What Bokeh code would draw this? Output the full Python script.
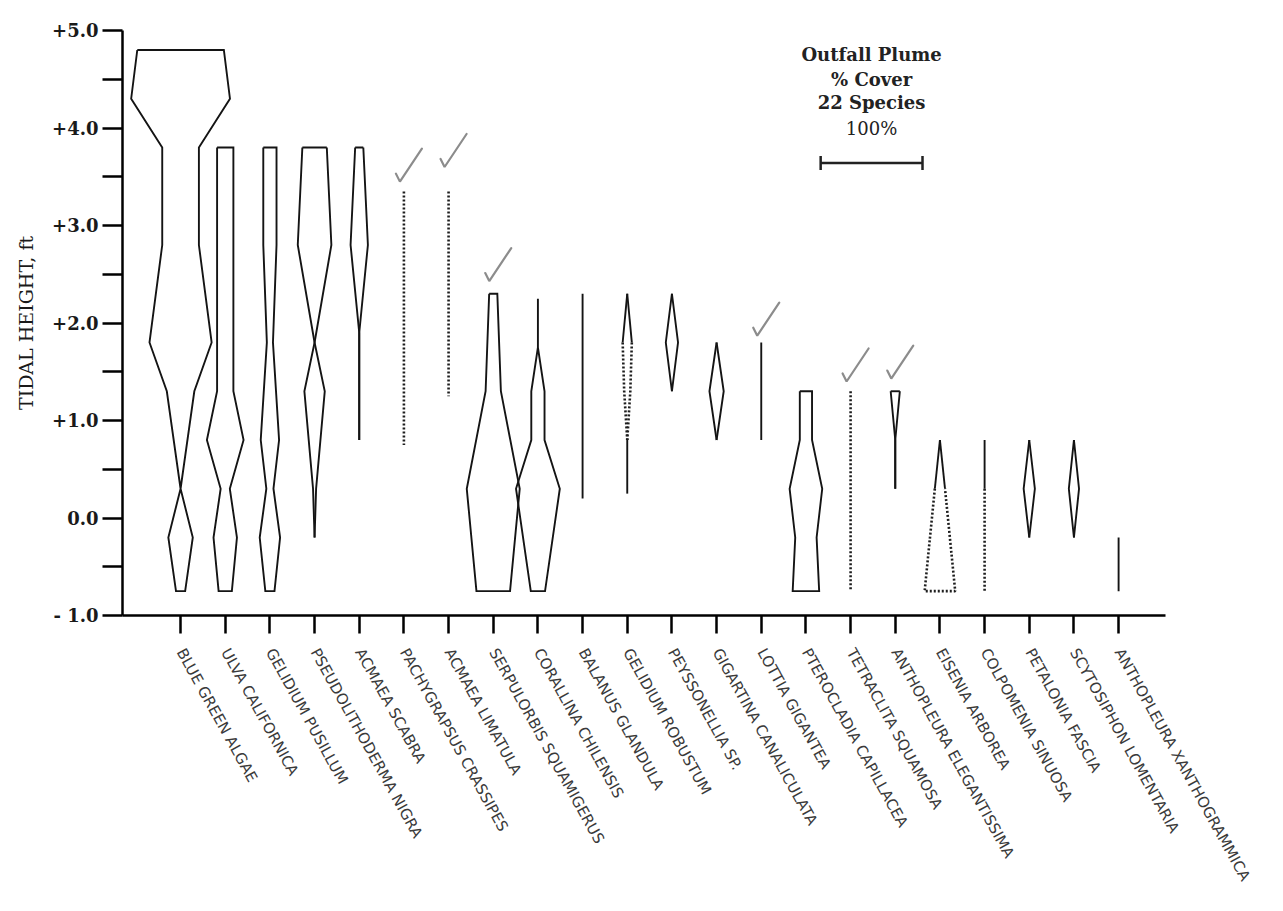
import math
from bokeh.plotting import figure
from bokeh.models import FixedTicker, Range1d
from bokeh.core.properties import value
from bokeh.embed import file_html
from bokeh.resources import INLINE

species = [
    "BLUE GREEN ALGAE", "ULVA CALIFORNICA", "GELIDIUM PUSILLUM",
    "PSEUDOLITHODERMA NIGRA", "ACMAEA SCABRA", "PACHYGRAPSUS CRASSIPES",
    "ACMAEA LIMATULA", "SERPULORBIS SQUAMIGERUS", "CORALLINA CHILENSIS",
    "BALANUS GLANDULA", "GELIDIUM ROBUSTUM", "PEYSSONELLIA SP.",
    "GIGARTINA CANALICULATA", "LOTTIA GIGANTEA", "PTEROCLADIA CAPILLACEA",
    "TETRACLITA SQUAMOSA", "ANTHOPLEURA ELEGANTISSIMA", "EISENIA ARBOREA",
    "COLPOMENIA SINUOSA", "PETALONIA FASCIA", "SCYTOSIPHON LOMENTARIA",
    "ANTHOPLEURA XANTHOGRAMMICA",
]

# Tidal heights (ft) and % cover along each kite profile
h01 = [4.8, 4.3, 3.8, 2.8, 1.8, 1.3, 0.3, -0.2, -0.75]
c01 = [85, 97, 36, 36, 61, 27, 0, 24, 9]
h02 = [3.8, 1.3, 0.8, 0.3, -0.2, -0.75]
c02 = [16, 16, 36, 9, 23, 13]
h03 = [3.8, 2.8, 1.8, 0.8, 0.3, -0.2, -0.75]
c03 = [13, 13, 6, 18, 7, 20, 9]
h04 = [3.8, 2.8, 1.8, 1.3, 0.3, -0.2]
c04 = [24, 33, 0, 20, 3, 0]
h05 = [3.8, 2.8, 1.9, 0.8]
c05 = [8, 17, 0, 0]
h06 = [3.35, 0.75]          # dotted: present, not in cover
c06 = [0, 0]
h07 = [3.35, 1.25]          # dotted
c07 = [0, 0]
h08 = [2.3, 1.3, 0.3, -0.75]
c08 = [8, 15, 52, 33]
h09 = [2.25, 1.75, 1.3, 0.8, 0.3, -0.75]
c09 = [0, 0, 13, 13, 43, 14]
h10 = [2.3, 0.2]
c10 = [0, 0]
h11a = [2.3, 1.8]
c11a = [0, 9]
h11b = [1.8, 1.3, 0.8]      # dotted
c11b = [9, 6, 0]
h11c = [0.8, 0.25]
c11c = [0, 0]
h12 = [2.3, 1.8, 1.3]
c12 = [0, 12, 0]
h13 = [1.8, 1.3, 0.8]
c13 = [0, 14, 0]
h14 = [1.8, 0.8]
c14 = [0, 0]
h15 = [1.3, 0.8, 0.3, -0.2, -0.75]
c15 = [12, 12, 32, 21, 26]
h16 = [1.3, -0.75]          # dotted
c16 = [0, 0]
h17 = [1.3, 0.8, 0.3]
c17 = [9, 0, 0]
h18a = [0.8, 0.3]
c18a = [0, 10]
h18b = [0.3, -0.75]         # dotted
c18b = [10, 30]
h19a = [0.8, 0.3]
c19a = [0, 0]
h19b = [0.3, -0.75]         # dotted
c19b = [0, 0]
h20 = [0.8, 0.3, -0.2]
c20 = [0, 11, 0]
h21 = [0.8, 0.3, -0.2]
c21 = [0, 10, 0]
h22 = [-0.2, -0.75]
c22 = [0, 0]

# species carrying a hand-drawn check mark, and height of the mark's tip
check_species = [6, 7, 8, 14, 16, 17]
check_tip_h = [3.45, 3.6, 2.43, 1.87, 1.4, 1.43]

y_ticks = [-1, 0, 1, 2, 3, 4, 5]
y_tick_labels = ["- 1.0", "0.0", "+1.0", "+2.0", "+3.0", "+4.0", "+5.0"]
y_minor = [-0.5, 0.5, 1.5, 2.5, 3.5, 4.5]

legend_lines = ["Outfall Plume", "% Cover", "22 Species", "100%"]
legend_pct = 100

segments = [
    (1, "solid", h01, c01), (2, "solid", h02, c02), (3, "solid", h03, c03),
    (4, "solid", h04, c04), (5, "solid", h05, c05), (6, "dot", h06, c06),
    (7, "dot", h07, c07), (8, "solid", h08, c08), (9, "solid", h09, c09),
    (10, "solid", h10, c10), (11, "solid", h11a, c11a), (11, "dot", h11b, c11b),
    (11, "solid", h11c, c11c), (12, "solid", h12, c12), (13, "solid", h13, c13),
    (14, "solid", h14, c14), (15, "solid", h15, c15), (16, "dot", h16, c16),
    (17, "solid", h17, c17), (18, "solid", h18a, c18a), (18, "dot", h18b, c18b),
    (19, "solid", h19a, c19a), (19, "dot", h19b, c19b), (20, "solid", h20, c20),
    (21, "solid", h21, c21), (22, "solid", h22, c22),
]

FULL_100 = 2.28          # x data units spanned by 100 % cover
HALF = FULL_100 / 200.0  # half width per % cover
PX_X = 1 / 44.67         # data units per screen pixel
PX_Y = 1 / 97.5

p = figure(width=1265, height=893, x_range=Range1d(-0.3, 23.05), y_range=Range1d(-1, 5),
           output_backend="svg", toolbar_location=None,
           min_border_left=122, min_border_right=100, min_border_top=30, min_border_bottom=278)
p.xgrid.visible = False
p.ygrid.visible = False
p.outline_line_color = None
p.background_fill_color = "white"
p.border_fill_color = "white"

first_seg = {}
last_seg = {}
for idx, (s, st, hs, cs) in enumerate(segments):
    first_seg.setdefault(s, idx)
    last_seg[s] = idx

styles = {"solid": ([], []), "dot": ([], [])}
for idx, (s, st, hs, cs) in enumerate(segments):
    xs_l = [s - c * HALF for c in cs]
    xs_r = [s + c * HALF for c in cs]
    cap_top = first_seg[s] == idx and cs[0] > 0
    cap_bot = last_seg[s] == idx and cs[-1] > 0
    X, Y = styles[st]
    if max(cs) == 0:
        X.append([float(s)] * len(hs)); Y.append(list(hs))
        continue
    if cap_bot:
        px = xs_l + xs_r[::-1]
        py = list(hs) + list(hs)[::-1]
        if cap_top:
            px.append(xs_l[0]); py.append(hs[0])
        X.append(px); Y.append(py)
    else:
        X.append(xs_l); Y.append(list(hs))
        X.append(xs_r); Y.append(list(hs))
        if cap_top:
            X.append([xs_l[0], xs_r[0]]); Y.append([hs[0], hs[0]])

p.multi_line(xs=styles["solid"][0], ys=styles["solid"][1], line_color="#141414",
             line_width=1.9, line_join="miter")
p.multi_line(xs=styles["dot"][0], ys=styles["dot"][1], line_color="#1e1e1e",
             line_width=2.6, line_dash="2 2")

# check marks
cxs, cys = [], []
for s, th in zip(check_species, check_tip_h):
    tx = s - 4 * PX_X
    cxs.append([tx - 4 * PX_X, tx, tx + 22 * PX_X])
    cys.append([th + 8 * PX_Y, th, th + 33 * PX_Y])
p.multi_line(xs=cxs, ys=cys, line_color="#8c8c8c", line_width=2.2, line_cap="round")

# legend / scale
leg_x = 16.47
leg_y = [4.75, 4.50, 4.26, 4.0]
bar_y = 3.64
styles_txt = ["bold", "bold", "bold", "normal"]
for t, yy, fs in zip(legend_lines, leg_y, styles_txt):
    p.text(x=[leg_x], y=[yy], text=[t], text_align="center", text_baseline="middle",
           text_font=value("DejaVu Serif"), text_font_size="18px", text_font_style=fs,
           text_color="#222222")
bw = legend_pct * HALF
p.segment(x0=[leg_x - bw], y0=[bar_y], x1=[leg_x + bw], y1=[bar_y], line_color="#222222", line_width=2.5)
p.segment(x0=[leg_x - bw, leg_x + bw], y0=[bar_y - 7 * PX_Y] * 2,
          x1=[leg_x - bw, leg_x + bw], y1=[bar_y + 7 * PX_Y] * 2, line_color="#222222", line_width=2.5)

# y axis
ya = p.yaxis[0]
ya.ticker = FixedTicker(ticks=y_ticks, minor_ticks=y_minor)
ya.major_label_overrides = {t: l for t, l in zip(y_ticks, y_tick_labels)}
ya.major_tick_out = 20
ya.major_tick_in = 0
ya.minor_tick_out = 20
ya.minor_tick_in = 0
ya.major_tick_line_width = 2.5
ya.minor_tick_line_width = 2.5
ya.axis_line_width = 2.5
ya.major_label_text_font = "DejaVu Serif"
ya.major_label_text_font_size = "18px"
ya.major_label_text_font_style = "bold"
ya.major_label_text_color = "#1a1a1a"
ya.major_label_standoff = 4
ya.axis_label = "TIDAL HEIGHT, ft"
ya.axis_label_text_font = "DejaVu Serif"
ya.axis_label_text_font_size = "19px"
ya.axis_label_text_font_style = "normal"
ya.axis_label_text_color = "#1a1a1a"
ya.axis_label_standoff = 12

# x axis
xa = p.xaxis[0]
xa.ticker = FixedTicker(ticks=list(range(1, len(species) + 1)))
xa.major_label_overrides = {i + 1: n for i, n in enumerate(species)}
xa.major_label_orientation = -math.radians(61)
xa.major_tick_out = 18
xa.major_tick_in = 0
xa.minor_tick_line_color = None
xa.major_tick_line_width = 2.5
xa.axis_line_width = 2.5
xa.major_label_standoff = 16
xa.major_label_text_font = "DejaVu Sans"
xa.major_label_text_font_size = "15px"
xa.major_label_text_color = "#3a3a3a"

open("out.html", "w").write(file_html(p, INLINE))
